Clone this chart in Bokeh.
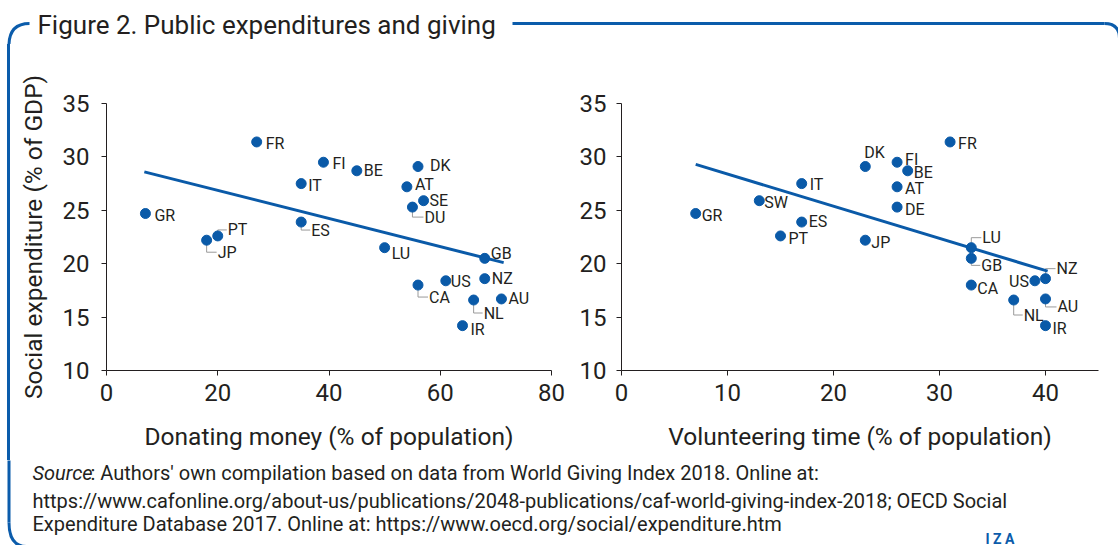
from bokeh.plotting import figure
from bokeh.layouts import column, row
from bokeh.models import Range1d, ColumnDataSource, FixedTicker, Div
from bokeh.core.properties import value
from bokeh.embed import file_html
from bokeh.resources import INLINE

# ---------------- data ----------------
money_country = ["FR", "FI", "BE", "DK", "IT", "AT", "SE", "DU", "GR", "ES",
                 "PT", "JP", "LU", "GB", "NZ", "US", "CA", "AU", "NL", "IR"]
money_pct = [27, 39, 45, 56, 35, 54, 57, 55, 7, 35,
             20, 18, 50, 68, 68, 61, 56, 71, 66, 64]
money_social = [31.4, 29.5, 28.7, 29.1, 27.5, 27.2, 25.9, 25.3, 24.7, 23.9,
                 22.6, 22.2, 21.5, 20.5, 18.6, 18.4, 18.0, 16.7, 16.6, 14.2]
money_trend_x = [6.8, 71.4]
money_trend_y = [28.6, 20.1]

time_country = ["FR", "DK", "FI", "BE", "IT", "AT", "SW", "DE", "GR", "ES",
                "PT", "JP", "LU", "GB", "CA", "US", "NZ", "NL", "AU", "IR"]
time_pct = [31, 23, 26, 27, 17, 26, 13, 26, 7, 17,
            15, 23, 33, 33, 33, 39, 40, 37, 40, 40]
time_social = [31.4, 29.1, 29.5, 28.7, 27.5, 27.2, 25.9, 25.3, 24.7, 23.9,
               22.6, 22.2, 21.5, 20.5, 18.0, 18.4, 18.6, 16.6, 16.7, 14.2]
time_trend_x = [7.0, 40.2]
time_trend_y = [29.3, 19.3]

y_ticks = [10, 15, 20, 25, 30, 35]
money_ticks = [0, 20, 40, 60, 80]
time_ticks = [0, 10, 20, 30, 40]

title_text = "Figure 2. Public expenditures and giving"
source_lines = [
    ": Authors' own compilation based on data from World Giving Index 2018. Online at:",
    "https://www.cafonline.org/about-us/publications/2048-publications/caf-world-giving-index-2018; OECD Social",
    "Expenditure Database 2017. Online at: https://www.oecd.org/social/expenditure.htm",
]

# ---------------- label placement (pixels) ----------------
money_lab = {  # dx, dy, align, leader
    "FR": (9, 2, "left", False), "FI": (9, 1, "left", False), "BE": (7, 0, "left", False),
    "DK": (12, -1, "left", False), "IT": (7, 2, "left", False), "AT": (8, -2, "left", False),
    "SE": (6, 0, "left", False), "DU": (12, 10, "left", True), "GR": (9, 2, "left", False),
    "ES": (10, 8, "left", True), "PT": (10, -6, "left", True), "JP": (11, 12, "left", True),
    "LU": (7, 6, "left", False), "GB": (6, -5, "left", False), "NZ": (7, 0, "left", False),
    "US": (5, 1, "left", False), "CA": (11, 12, "left", True), "AU": (7, 0, "left", False),
    "NL": (10, 13, "left", True), "IR": (8, 4, "left", False),
}
time_lab = {
    "FR": (8, 2, "left", False), "DK": (-1, -14, "left", False), "FI": (8, -3, "left", False),
    "BE": (6, 2, "left", False), "IT": (8, 1, "left", False), "AT": (8, 2, "left", False),
    "SW": (5, 2, "left", False), "DE": (8, 2, "left", False), "GR": (6, 2, "left", False),
    "ES": (7, -1, "left", False), "PT": (8, 3, "left", False), "JP": (6, 2, "left", False),
    "LU": (11, -10, "left", True), "GB": (10, 7, "left", True), "CA": (6, 3, "left", False),
    "US": (-6, 1, "right", False), "NZ": (11, -10, "left", True), "NL": (10, 15, "left", True),
    "AU": (12, 8, "left", True), "IR": (7, 3, "left", False),
}

FONT = "Roboto"
INK = "#231f20"
BLUE = "#0a5aa8"
FRAME_BLUE = "#0b5cab"
GREY = "#9a9a9a"

W = 1118
TOP_H = 44
ROW_H = 416
BOT_H = 545 - TOP_H - ROW_H
BT, BB = 59, 90
FRAME_H = ROW_H - BT - BB


def blank(width, height, xr, yr):
    p = figure(width=width, height=height, x_range=Range1d(*xr), y_range=Range1d(*yr),
               x_axis_type=None, y_axis_type=None, toolbar_location=None,
               output_backend="svg", min_border=0, outline_line_color=None)
    p.grid.visible = False
    return p


def panel(countries, xs, ys, tx, ty, labs, x_end, xticks, xlabel, ylabel,
          width, bl, br, y_standoff):
    p = figure(width=width, height=ROW_H, x_range=Range1d(0, x_end), y_range=Range1d(10, 35),
               toolbar_location=None, output_backend="svg",
               min_border_left=bl, min_border_right=br, min_border_top=BT, min_border_bottom=BB,
               outline_line_color=None)
    p.grid.visible = False
    kx = (width - bl - br) / x_end
    ky = FRAME_H / 25.0

    # leader lines
    lx, ly = [], []
    for c, x, y in zip(countries, xs, ys):
        dx, dy, al, lead = labs[c]
        if lead:
            yy = y - dy / ky
            lx.append([x, x, x + (dx - 1) / kx])
            ly.append([y, yy, yy])
    if lx:
        p.multi_line(lx, ly, line_color=GREY, line_width=1)

    p.line(tx, ty, line_color=BLUE, line_width=3)
    src = ColumnDataSource(dict(
        x=xs, y=ys, c=countries,
        dx=[labs[c][0] for c in countries], dy=[labs[c][1] for c in countries],
        al=[labs[c][2] for c in countries]))
    p.scatter("x", "y", source=src, size=10, fill_color=BLUE, line_color=BLUE)
    p.text("x", "y", text="c", source=src, x_offset="dx", y_offset="dy", text_align="al",
           text_baseline="middle", text_font=value(FONT), text_font_size="16px",
           text_color=INK)

    for ax in (p.xaxis[0], p.yaxis[0]):
        ax.axis_line_color = INK
        ax.major_tick_line_color = INK
        ax.major_tick_out = 5
        ax.major_tick_in = 0
        ax.minor_tick_line_color = None
        ax.major_label_text_font = FONT
        ax.major_label_text_font_size = "24px"
        ax.major_label_text_color = INK
        ax.axis_label_text_font = FONT
        ax.axis_label_text_font_size = "24.5px"
        ax.axis_label_text_font_style = "normal"
        ax.axis_label_text_color = INK
    p.xaxis.ticker = FixedTicker(ticks=xticks)
    p.yaxis.ticker = FixedTicker(ticks=y_ticks)
    p.xaxis.axis_label = xlabel
    p.xaxis.major_label_standoff = 8
    p.xaxis.axis_label_standoff = 18
    p.yaxis.major_label_standoff = y_standoff
    if ylabel:
        p.yaxis.axis_label = ylabel
        p.yaxis.axis_label_standoff = 12
    return p


left = panel(money_country, money_pct, money_social, money_trend_x, money_trend_y,
             money_lab, 80, money_ticks, "Donating money (% of population)",
             "Social expenditure (% of GDP)", 558, 94, 19, 12)
right = panel(time_country, time_pct, time_social, time_trend_x, time_trend_y,
              time_lab, 45, time_ticks, "Volunteering time (% of population)", None,
              548, 51, 20, 10)

# top bar: title and frame top
top = blank(W, TOP_H, (0, W), (TOP_H, 0))
top.quadratic(x0=[8.5], y0=[TOP_H + 1], x1=[29], y1=[23], cx=[8.5], cy=[23],
              line_color=FRAME_BLUE, line_width=3)
top.segment(x0=[512], y0=[23], x1=[1104], y1=[23], line_color=FRAME_BLUE, line_width=3)
top.quadratic(x0=[1104], y0=[23], x1=[1119], y1=[38], cx=[1119], cy=[23],
              line_color=FRAME_BLUE, line_width=3)
top.text(x=[37], y=[24], text=[title_text], text_font=value(FONT), text_font_size="26px",
         text_color=INK, text_baseline="middle")

# left frame strip (plain decoration)
strip = Div(text="", width=12, height=ROW_H, margin=0,
            styles={"background": "linear-gradient(to right, #ffffff 7px, #0b5cab 7px, "
                                  "#0b5cab 10px, #ffffff 10px)"})

# bottom: source
bottom = blank(W, BOT_H, (0, W), (BOT_H, 0))
bottom.segment(x0=[8.5], y0=[-1], x1=[8.5], y1=[62], line_color=FRAME_BLUE, line_width=3)
bottom.quadratic(x0=[8.5], y0=[62], x1=[26], y1=[BOT_H + 1], cx=[8.5], cy=[BOT_H + 1],
                 line_color=FRAME_BLUE, line_width=3)
bottom.text(x=[32], y=[12], text=["Source"], text_font=value(FONT), text_font_size="20px",
            text_font_style="italic", text_color=INK, text_baseline="middle")
bottom.text(x=[90, 32, 32], y=[12, 40, 63], text=source_lines, text_font=value(FONT),
            text_font_size="20px", text_color=INK, text_baseline="middle")
bottom.text(x=[985], y=[78], text=["I Z A"], text_font=value(FONT), text_font_size="14px",
            text_font_style="bold", text_color=FRAME_BLUE, text_baseline="middle")

layout = column(top, row(strip, left, right), bottom)
open("out.html", "w").write(file_html(layout, INLINE))
